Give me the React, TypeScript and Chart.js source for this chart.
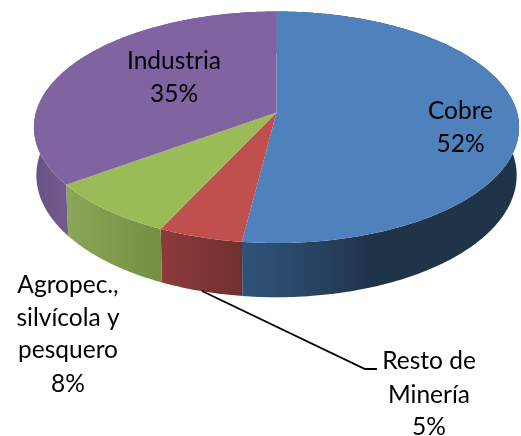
import { useEffect, useRef } from "react";
import { Chart, registerables } from "chart.js";

Chart.register(...registerables);

const categories = ["Cobre", "Resto de Minería", "Agropec., silvícola y pesquero", "Industria"];
const shares = [52, 5, 8, 35];
const topColors = ["#4f81bd", "#c0504d", "#9bbb59", "#8064a2"];
const wallStops: [number, string][][] = [
  [[242, "#2f5279"], [300, "#294768"], [375, "#1f3349"], [520, "#1f3349"]],
  [[161, "#8c3b3a"], [242, "#732f2f"]],
  [[67, "#8aa656"], [161, "#758f42"]],
  [[34, "#6a5285"], [67, "#725a8d"]],
];
const labelLines = [["Cobre", "52%"], ["Resto de", "Minería", "5%"], ["Agropec.,", "silvícola y", "pesquero", "8%"], ["Industria", "35%"]];
const labelAnchors = [
  { x: 460.5, ys: [111, 144] },
  { x: 429, ys: [361, 395, 427] },
  { x: 68, ys: [285, 318, 350, 384] },
  { x: 174, ys: [61, 94] },
];

const CX = 276.5, CY = 112.5, RX = 240.6, RY = 113.9, K = 0.1274, DEPTH = 47.3, BOTTOM_X = 0.99;

function project(angle: number, drop: boolean) {
  const t = angle + Math.PI / 2;
  const s = Math.sin(t), c = Math.cos(t), w = 1 + K * c;
  const x = (RX * s) / w * (drop ? BOTTOM_X : 1);
  const y = (-RY * c) / w + (drop ? DEPTH / w : 0);
  return { x: CX + x, y: CY + y };
}

function angles(start: number, end: number) {
  const n = Math.max(8, Math.ceil((end - start) / 0.01));
  const out: number[] = [];
  for (let i = 0; i <= n; i++) out.push(start + ((end - start) * i) / n);
  return out;
}

const pie3d = {
  id: "pie3d",
  beforeDatasetDraw(chart: any) {
    const ctx: CanvasRenderingContext2D = chart.ctx;
    const arcs = chart.getDatasetMeta(0).data;
    arcs.forEach((arc: any, i: number) => {
      const as = angles(arc.startAngle, arc.endAngle);
      const g = ctx.createLinearGradient(0, 0, 521, 0);
      wallStops[i].forEach(([x, col]) => g.addColorStop(x / 521, col));
      ctx.beginPath();
      as.forEach((a, j) => {
        const p = project(a, false);
        j ? ctx.lineTo(p.x, p.y) : ctx.moveTo(p.x, p.y);
      });
      [...as].reverse().forEach((a) => {
        const p = project(a, true);
        ctx.lineTo(p.x, p.y);
      });
      ctx.closePath();
      ctx.fillStyle = g;
      ctx.fill();
    });
    arcs.forEach((arc: any, i: number) => {
      ctx.beginPath();
      ctx.moveTo(CX, CY);
      angles(arc.startAngle, arc.endAngle).forEach((a) => {
        const p = project(a, false);
        ctx.lineTo(p.x, p.y);
      });
      ctx.closePath();
      ctx.fillStyle = topColors[i];
      ctx.fill();
    });
    return false;
  },
  afterDraw(chart: any) {
    const ctx: CanvasRenderingContext2D = chart.ctx;
    ctx.save();
    ctx.strokeStyle = "#000";
    ctx.lineWidth = 1.8;
    ctx.beginPath();
    ctx.moveTo(202, 291);
    ctx.lineTo(365, 369);
    ctx.lineTo(377, 369);
    ctx.stroke();
    ctx.fillStyle = "#000";
    ctx.font = '24.5px Lato';
    ctx.textAlign = "center";
    ctx.textBaseline = "middle";
    labelLines.forEach((lines, i) => {
      lines.forEach((t, j) => ctx.fillText(t, labelAnchors[i].x, labelAnchors[i].ys[j]));
    });
    ctx.restore();
  },
};

export default function App() {
  const ref = useRef<HTMLCanvasElement>(null);
  useEffect(() => {
    const chart = new Chart(ref.current!, {
      type: "pie",
      data: { labels: categories, datasets: [{ data: shares, backgroundColor: topColors, borderWidth: 0 }] },
      options: {
        responsive: false,
        animation: false,
        plugins: { legend: { display: false }, tooltip: { enabled: false } },
      },
      plugins: [pie3d],
    } as any);
    return () => chart.destroy();
  }, []);
  return (
    <div style={{ position: "absolute", left: 0, top: 0, width: 521, height: 436, background: "#fff" }}>
      <canvas ref={ref} width={521} height={436} style={{ display: "block" }} />
    </div>
  );
}
